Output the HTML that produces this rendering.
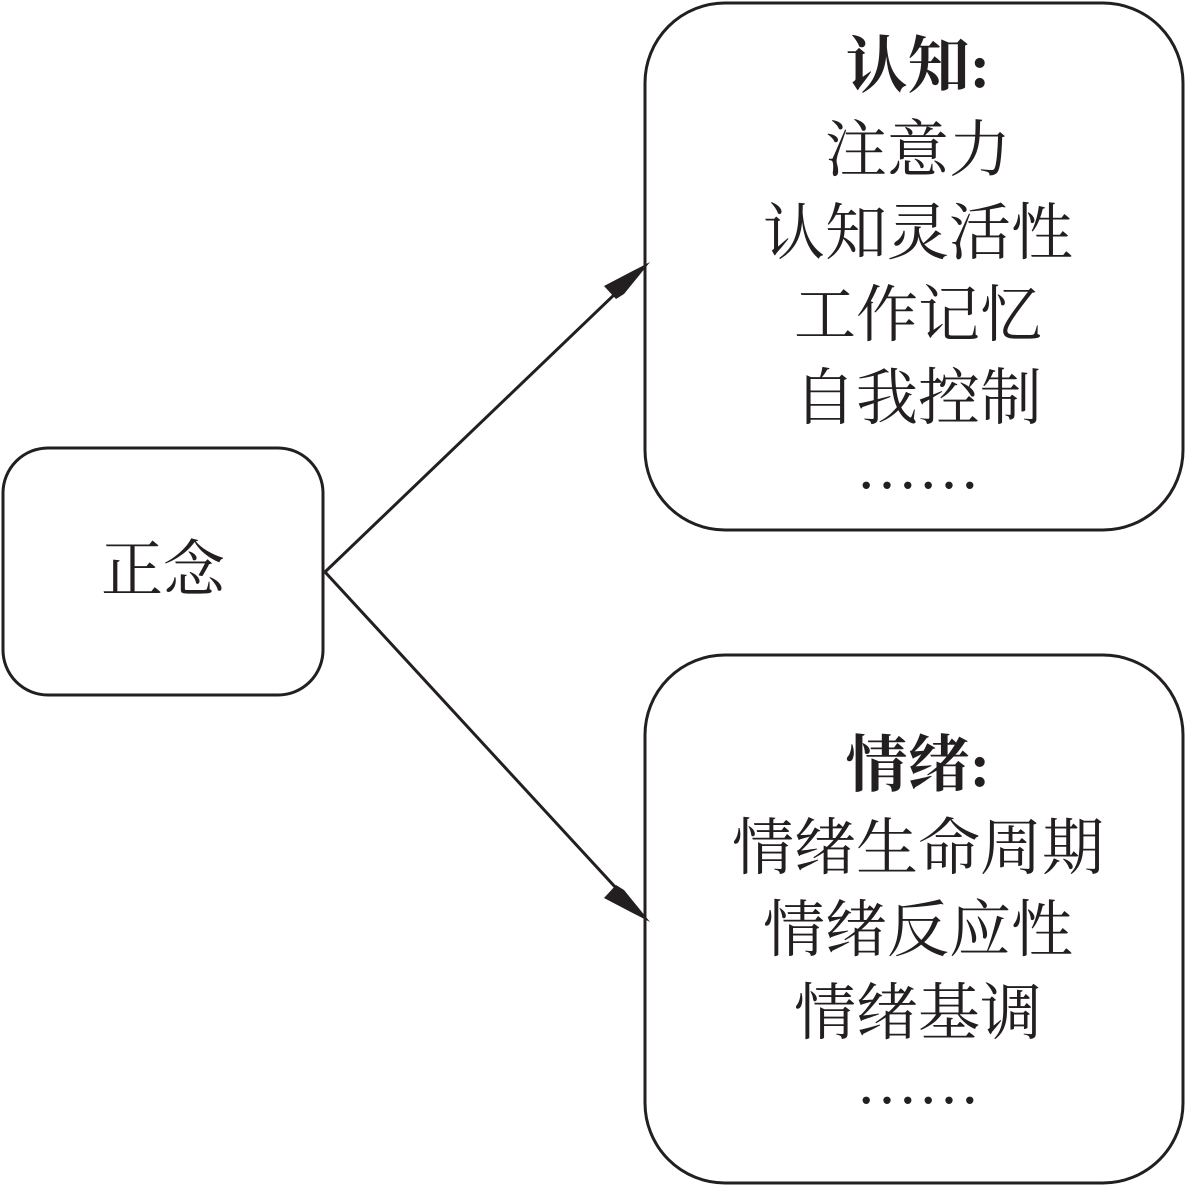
<!DOCTYPE html>
<html><head><meta charset="utf-8"><style>
html,body{margin:0;padding:0;background:#fff;}
svg{display:block}
text{font-family:"Liberation Serif","Noto Serif CJK SC",serif;fill:#231f20;}
</style></head><body>
<svg width="1186" height="1186" viewBox="0 0 1186 1186">
<g fill="none" stroke="#231f20" stroke-width="3">
<rect x="3" y="448" width="320" height="247" rx="45"/>
<rect x="645" y="3" width="538" height="527" rx="80"/>
<rect x="645" y="655" width="538" height="528" rx="80"/>
<line x1="325" y1="572" x2="640" y2="270"/>
<line x1="325" y1="572" x2="640" y2="914"/>
</g>
<path d="M650,262 L604,286 L616,299 L624,294 Z" fill="#231f20"/>
<path d="M650,922 L604,898 L616,885 L624,890 Z" fill="#231f20"/>
<g font-size="62" text-anchor="middle">
<text x="163" y="591">正念</text>
<text x="918" y="87" font-weight="bold">认知:</text>
<text x="918" y="171">注意力</text>
<text x="918" y="254">认知灵活性</text>
<text x="918" y="336">工作记忆</text>
<text x="918" y="419">自我控制</text>
<text x="918" y="488">……</text>
<text x="918" y="786" font-weight="bold">情绪:</text>
<text x="918" y="869">情绪生命周期</text>
<text x="918" y="951">情绪反应性</text>
<text x="918" y="1034">情绪基调</text>
<text x="918" y="1103">……</text>
</g>
</svg>
</body></html>
